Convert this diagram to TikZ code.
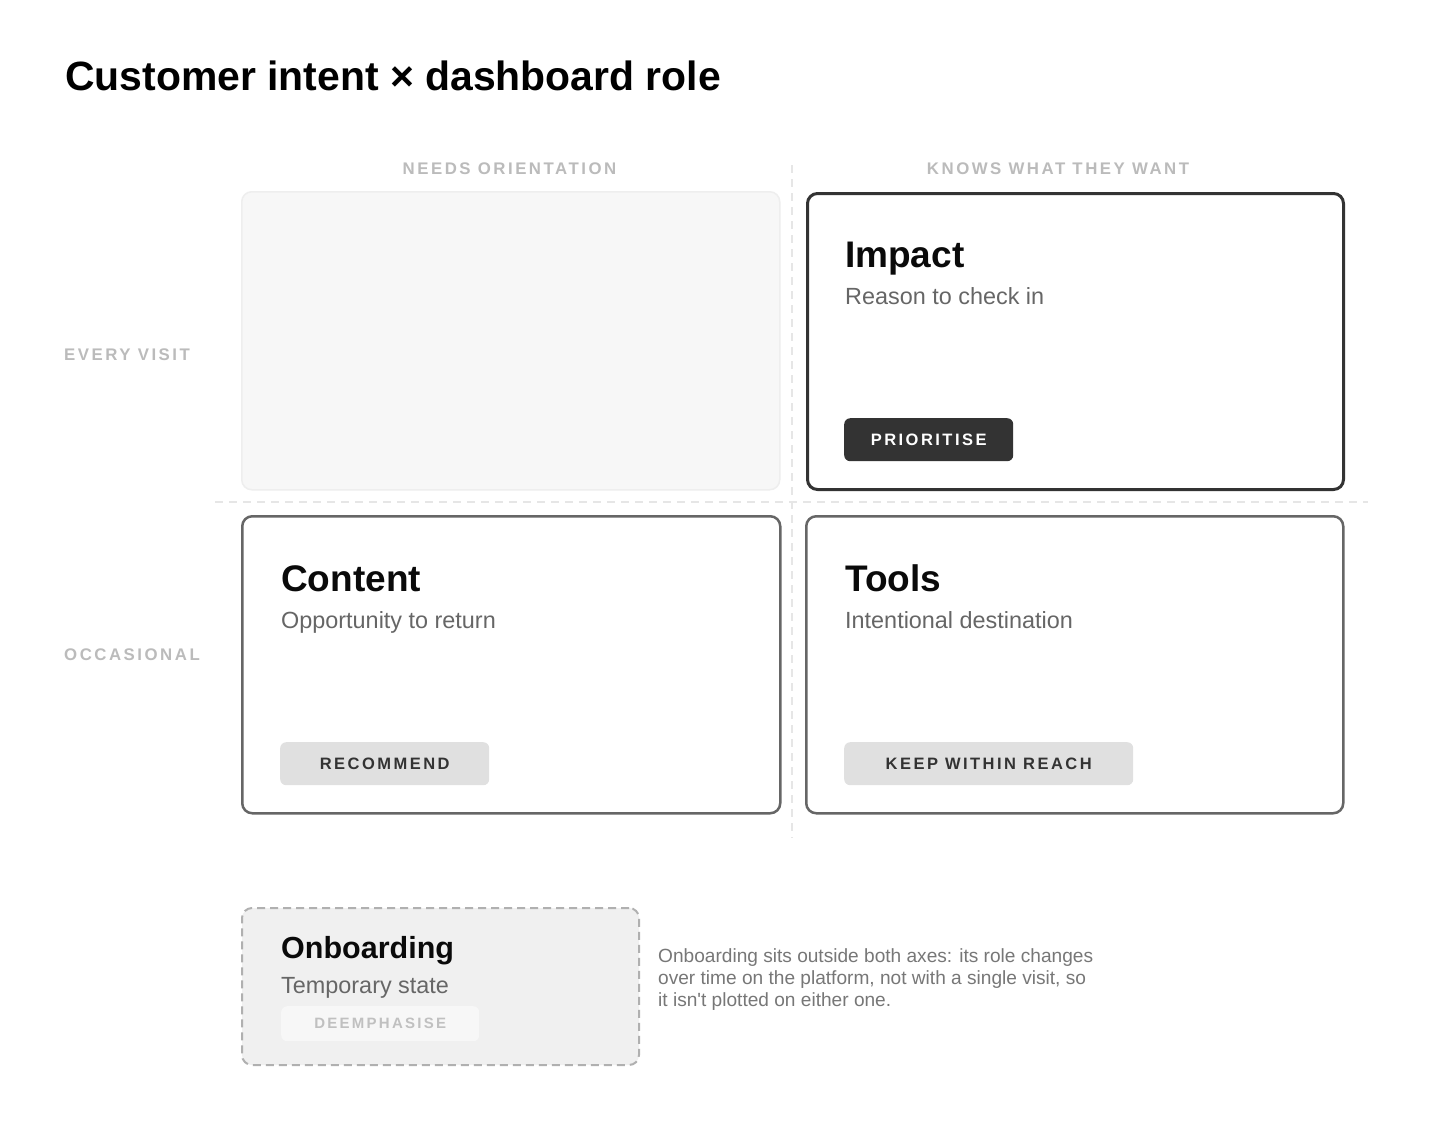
\documentclass[tikz,border=0pt]{standalone}
\usepackage{fontspec}
\setmainfont{Liberation Sans}
\newfontfamily\spacedfont[LetterSpace=15]{Liberation Sans}
\definecolor{ink}{HTML}{0A0A0A}
\definecolor{subgray}{HTML}{666666}
\definecolor{axisgray}{HTML}{BBBBBB}
\definecolor{gridgray}{HTML}{E6E6E6}
\definecolor{emptyfill}{HTML}{F7F7F7}
\definecolor{emptyline}{HTML}{EEEEEE}
\definecolor{darkline}{HTML}{333333}
\definecolor{midline}{HTML}{666666}
\definecolor{btnlight}{HTML}{E0E0E0}
\definecolor{onbfill}{HTML}{F0F0F0}
\definecolor{onbline}{HTML}{B0B0B0}
\definecolor{notegray}{HTML}{777777}
\definecolor{deemtext}{HTML}{C0C0C0}
\tikzset{
  cardbox/.style={rounded corners=10pt, inner sep=0pt, anchor=north west},
  btnbox/.style={rounded corners=6pt, inner sep=0pt, anchor=north west, font=\spacedfont\fontsize{16.5}{20}\selectfont\bfseries},
  axislabel/.style={inner sep=0pt, text=axisgray, font=\spacedfont\fontsize{16.8}{20}\selectfont\bfseries},
  cardtitle/.style={inner sep=0pt, anchor=base west, text=ink, font=\fontsize{37}{44}\selectfont\bfseries},
  cardsub/.style={inner sep=0pt, anchor=base west, text=subgray, font=\fontsize{23.4}{28}\selectfont},
  gridline/.style={draw=gridgray, line width=1.5pt, dash pattern=on 8pt off 6pt},
}
\begin{document}
\begin{tikzpicture}[x=1pt,y=-1pt]
\useasboundingbox[fill=white] (0,0) rectangle (1440,1120);

% title
\node[inner sep=0pt, anchor=base west, text=black, font=\fontsize{40.9}{48}\selectfont\bfseries] (title) at (65,90) {Customer intent × dashboard role};

% grid lines
\coordinate (vtop) at (792,165);
\coordinate (vbot) at (792,838);
\coordinate (hleft) at (215,502);
\coordinate (hright) at (1368,502);
\draw[gridline] (vtop) -- (vbot);
\draw[gridline] (hleft) -- (hright);

% axis labels
\node[axislabel, anchor=base] (colA) at (509.5,174) {NEEDS ORIENTATION};
\node[axislabel, anchor=base] (colB) at (1058,174) {KNOWS WHAT THEY WANT};
\node[axislabel, anchor=base west] (rowA) at (64,360) {EVERY VISIT};
\node[axislabel, anchor=base west] (rowB) at (64,660) {OCCASIONAL};

% empty quadrant
\node[cardbox, fill=emptyfill, draw=emptyline, line width=1.5pt, minimum width=538, minimum height=298] (empty) at (241,191) {};

% impact
\node[cardbox, fill=white, draw=darkline, line width=3pt, minimum width=536, minimum height=296] (impact) at (806,192) {};
\node[cardtitle] (impactT) at (845,267) {Impact};
\node[cardsub] (impactS) at (845,304) {Reason to check in};
\node[btnbox, fill=darkline, text=white, minimum width=169, minimum height=43] (prio) at (844,418) {PRIORITISE};

% content
\node[cardbox, fill=white, draw=midline, line width=2.5pt, minimum width=538, minimum height=297] (content) at (241,515) {};
\node[cardtitle] (contentT) at (281,591) {Content};
\node[cardsub] (contentS) at (281,628) {Opportunity to return};
\node[btnbox, fill=btnlight, text=darkline, minimum width=209, minimum height=43] (rec) at (280,742) {RECOMMEND};

% tools
\node[cardbox, fill=white, draw=midline, line width=2.5pt, minimum width=537, minimum height=297] (tools) at (805,515) {};
\node[cardtitle] (toolsT) at (845,591) {Tools};
\node[cardsub] (toolsS) at (845,628) {Intentional destination};
\node[btnbox, fill=btnlight, text=darkline, minimum width=289, minimum height=43] (keep) at (844,742) {KEEP WITHIN REACH};

% onboarding
\node[cardbox, fill=onbfill, draw=onbline, line width=2pt, dash pattern=on 8pt off 5pt, minimum width=397, minimum height=157] (onb) at (241,907) {};
\node[cardtitle, font=\fontsize{30.5}{36}\selectfont\bfseries] (onbT) at (281,958) {Onboarding};
\node[cardsub] (onbS) at (281,993) {Temporary state};
\node[btnbox, fill=emptyfill, text=deemtext, minimum width=198, minimum height=35, font=\spacedfont\fontsize{15}{18}\selectfont\bfseries] (deem) at (281,1006) {DEEMPHASISE};

% note
\node[inner sep=0pt, anchor=base west, align=left, text=notegray, font=\fontsize{19.1}{22}\selectfont] (note) at (658,1006) {Onboarding sits outside both axes: its role changes\\over time on the platform, not with a single visit, so\\it isn\textquotesingle t plotted on either one.};
\end{tikzpicture}
\end{document}
